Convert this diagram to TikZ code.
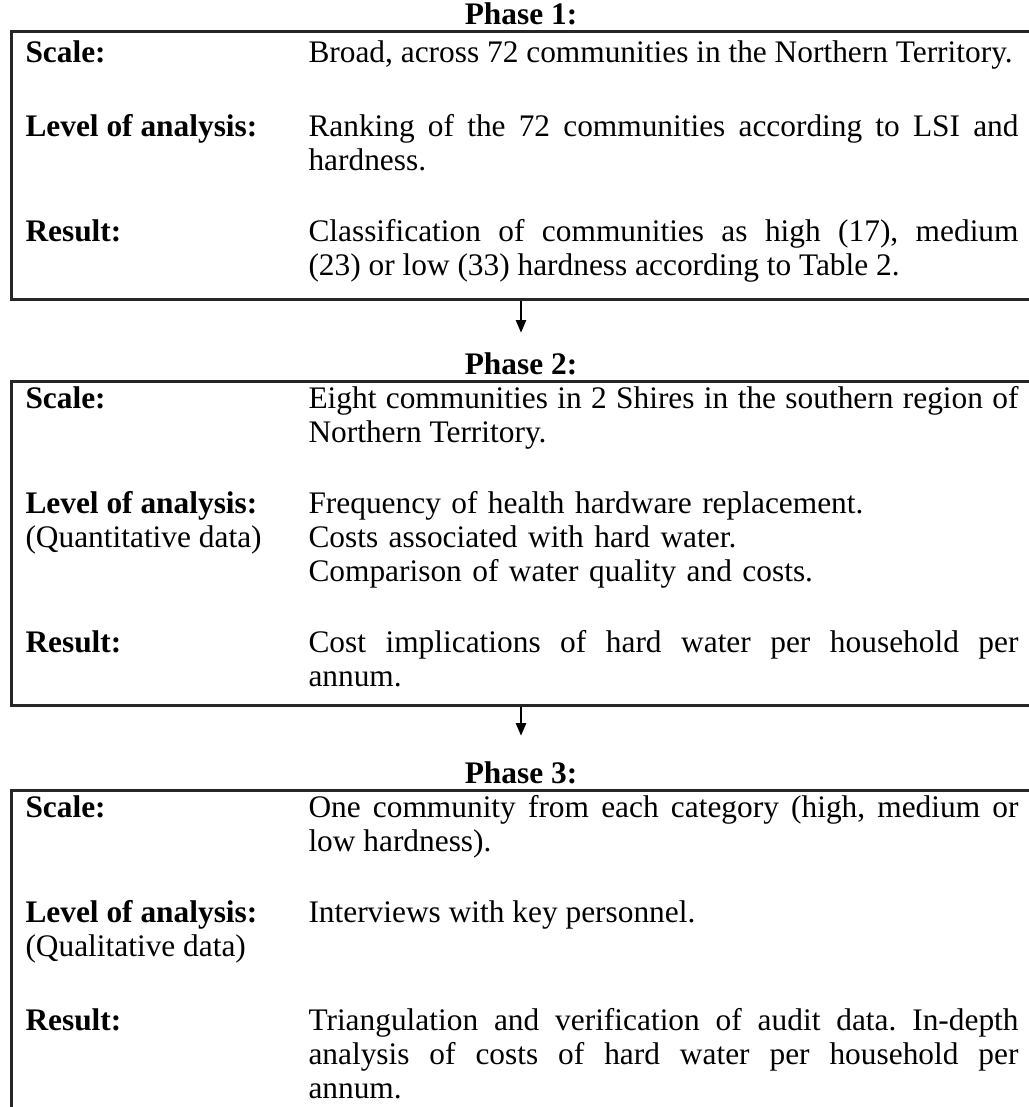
\documentclass[tikz,border=0pt]{standalone}
\usepackage{fontspec}
\setmainfont{Liberation Serif}
\usetikzlibrary{arrows.meta}
\tolerance=9999
\hyphenpenalty=10000
\frenchspacing

\begin{document}
\begin{tikzpicture}[
    x=0.4pt, y=-0.4pt,
    phasebox/.style={rectangle, draw=black!85, line width=1pt, minimum width=416pt, anchor=north west, inner sep=0pt},
    phase/.style={font=\fontsize{12.55}{13.6}\selectfont\bfseries, anchor=base, inner sep=0pt},
    head/.style={font=\fontsize{12.55}{13.6}\selectfont\bfseries, anchor=base west, inner sep=0pt},
    sub/.style={font=\fontsize{12.55}{13.6}\selectfont, anchor=base west, inner sep=0pt},
    desc/.style={font=\fontsize{12.55}{13.6}\selectfont, anchor=base west, inner sep=0pt, text width=284pt, align=justify},
    arrow/.style={-{Triangle[length=5pt, width=4pt]}, line width=0.8pt}
]
\useasboundingbox (0,0) rectangle (1028,1107);

% Phase 1
\node[phase] (phase1) at (521,24) {Phase 1:};
\node[phasebox, minimum height=107.2pt] (box1) at (10,30) {};
\node[head] (scale1) at (25,62) {Scale:};
\node[desc] (scaletxt1) at (308,62) {Broad, across 72 communities in the Northern Territory.};
\node[head] (level1) at (25,136) {Level of analysis:};
\node[desc] (leveltxt1) at (308,136) {Ranking of the 72 communities according to LSI and\linebreak hardness.};
\node[head] (result1) at (25,241) {Result:};
\node[desc] (resulttxt1) at (308,241) {Classification of communities as high (17), medium\linebreak (23) or low (33) hardness according to Table 2.};

% Phase 2
\node[phase] (phase2) at (521,374) {Phase 2:};
\node[phasebox, minimum height=129.6pt] (box2) at (10,380) {};
\node[head] (scale2) at (25,408) {Scale:};
\node[desc] (scaletxt2) at (308,408) {Eight communities in 2 Shires in the southern region of\linebreak Northern Territory.};
\node[head] (level2) at (25,513) {Level of analysis:};
\node[sub] (quant) at (25,547) {(Quantitative data)};
\node[desc, align=left] (leveltxt2) at (308,513) {Frequency of health hardware replacement.\\Costs associated with hard water.\\Comparison of water quality and costs.};
\node[head] (result2) at (25,652) {Result:};
\node[desc] (resulttxt2) at (308,652) {Cost implications of hard water per household per\linebreak annum.};

% Phase 3
\node[phase] (phase3) at (521,783) {Phase 3:};
\node[phasebox, minimum height=140pt] (box3) at (10,789) {};
\node[head] (scale3) at (25,817) {Scale:};
\node[desc] (scaletxt3) at (308,817) {One community from each category (high, medium or\linebreak low hardness).};
\node[head] (level3) at (25,922) {Level of analysis:};
\node[sub] (qual) at (25,956) {(Qualitative data)};
\node[desc] (leveltxt3) at (308,922) {Interviews with key personnel.};
\node[head] (result3) at (25,1030) {Result:};
\node[desc] (resulttxt3) at (308,1030) {Triangulation and verification of audit data. In-depth\linebreak analysis of costs of hard water per household per\linebreak annum.};

% Arrows
\draw[arrow, shorten >=7.6pt] (box1.south -| phase2.north) -- (phase2.north);
\draw[arrow, shorten >=10pt] (box2.south -| phase3.north) -- (phase3.north);
\end{tikzpicture}
\end{document}
